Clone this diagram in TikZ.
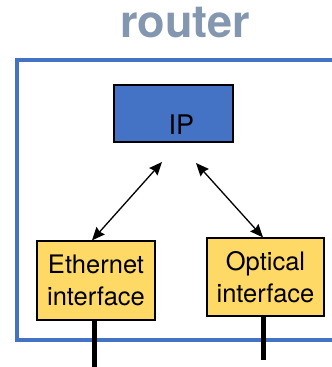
\documentclass[tikz,border=0pt]{standalone}
\usepackage{fontspec}
\setmainfont{TeX Gyre Heros}
\usepackage{tikz}
\usetikzlibrary{arrows.meta}

\definecolor{titlegray}{RGB}{132,151,176}
\definecolor{routerblue}{RGB}{68,114,196}
\definecolor{ifyellow}{RGB}{255,217,102}

\begin{document}
\begin{tikzpicture}[x=1pt,y=-1pt]
        \tikzstyle{arrow} = [line width=1.3pt,{Stealth[length=13pt,width=11pt,inset=1.5pt]}-{Stealth[length=13pt,width=11pt,inset=1.5pt]}]
        \tikzstyle{ifbox} = [draw=black,line width=1.2pt,fill=ifyellow,align=center,inner sep=0pt,
                             font=\fontsize{25.5}{32}\selectfont]
        \tikzstyle{cable} = [line width=5pt]

        \useasboundingbox (0,0) rectangle (332,367);
        \clip (0,0) rectangle (332,367);

        \node[anchor=base,text=titlegray,font=\fontsize{45}{54}\selectfont\bfseries] (title) at (185,37) {router};
        % router frame, runs out past the right edge
        \coordinate (rtop) at (360,60);
        \coordinate (rbottom) at (360,340);
        \draw[routerblue,line width=4pt] (rtop) -| (17,340) -- (rbottom);

        \node[draw=black,line width=1.2pt,fill=routerblue,minimum width=119pt,minimum height=57pt,
              label={[font=\fontsize{27}{30}\selectfont,xshift=8pt,yshift=-11pt]center:IP}] (ip) at (173.5,113.5) {};
        \node[ifbox,minimum width=118pt,minimum height=79pt] (eth) at (96,280.5) {Ethernet\\interface};
        \node[ifbox,minimum width=117pt,minimum height=78pt] (opt) at (265.5,277) {Optical\\interface};

        \coordinate (ipleft) at (162,162);
        \coordinate (ipright) at (196,163);
        \draw [arrow] (ipleft) -- ([xshift=-4pt]eth.north);
        \draw [arrow] (ipright) -- ([xshift=-2.5pt]opt.north);

        \coordinate (ethend) at (94,367);
        \coordinate (optend) at (263,360);
        \draw [cable] ([xshift=-2pt]eth.south) -- (ethend);
        \draw [cable] ([xshift=-2.5pt]opt.south) -- (optend);
    \end{tikzpicture}
\end{document}
